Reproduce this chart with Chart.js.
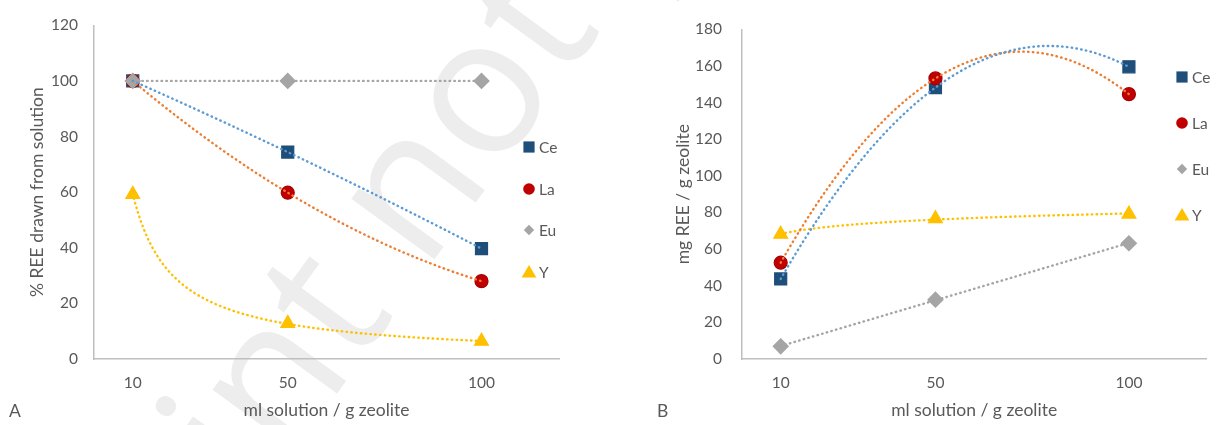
<!DOCTYPE html>
<html><head><meta charset="utf-8">
<script src="https://cdn.jsdelivr.net/npm/chart.js@4.4.1/dist/chart.umd.min.js"></script>
<style>
html,body{margin:0;padding:0;background:#fff;width:1216px;height:425px;overflow:hidden}
#wm{position:absolute;left:0;top:0;z-index:0}
.c{position:absolute;top:0;height:425px;z-index:1}
#ca{left:0;width:600px}
#cb{left:600px;width:616px}
</style></head><body>
<canvas id="wm" width="1216" height="425"></canvas>
<div class="c" id="ca"><canvas id="chartA"></canvas></div>
<div class="c" id="cb"><canvas id="chartB"></canvas></div>
<script>
// ---- data ----
const xValues = [10, 50, 100];
const xTickLabels = [10, 50, 100];
const seriesNames = ['Ce', 'La', 'Eu', 'Y'];
// Panel A: % REE drawn from solution
const pctCe = [100, 74.4, 39.7];
const pctLa = [100, 59.8, 28.0];
const pctEu = [100, 100, 100];
const pctY  = [59.2, 12.8, 6.4];
// Panel B: mg REE / g zeolite
const mgCe = [43.7, 148.2, 159.5];
const mgLa = [52.6, 153.2, 144.6];
const mgEu = [6.9, 32.4, 63.2];
const mgY  = [68.1, 76.6, 79.1];
// trendline types (Excel trendlines)
const trendA = ['poly2', 'poly2', 'linear', 'power'];
const trendB = ['poly2', 'poly2', 'linear', 'log'];

const FONT = 'Lato, "Open Sans", sans-serif';
const TXT = '#595959';
const markerColors = ['#1f4e79', '#c00000', '#a5a5a5', '#ffc000'];
const markerBorders = ['#1f4e79', '#a80000', '#a5a5a5', '#ffc000'];
const trendColors = ['#5b9bd5', '#ed7d31', '#a5a5a5', '#ffc000'];
const pointStyles = ['rect', 'circle', 'rectRot', 'triangle'];
const pointRadii = [8.5, 6.5, 7.5, 8];

// ---- regression helpers ----
function linFit(xs, ys) {
  const n = xs.length;
  const mx = xs.reduce((a, b) => a + b, 0) / n, my = ys.reduce((a, b) => a + b, 0) / n;
  let sxy = 0, sxx = 0;
  for (let i = 0; i < n; i++) { sxy += (xs[i] - mx) * (ys[i] - my); sxx += (xs[i] - mx) ** 2; }
  const b = sxx ? sxy / sxx : 0;
  return { a: my - b * mx, b };
}
function poly2Fit(xs, ys) {
  const S = [[0, 0, 0], [0, 0, 0], [0, 0, 0]], B = [0, 0, 0];
  xs.forEach((x, i) => {
    const p = [1, x, x * x];
    for (let r = 0; r < 3; r++) { B[r] += p[r] * ys[i]; for (let c = 0; c < 3; c++) S[r][c] += p[r] * p[c]; }
  });
  const M = S.map((row, i) => row.concat([B[i]]));
  for (let i = 0; i < 3; i++) {
    let piv = i;
    for (let k = i + 1; k < 3; k++) if (Math.abs(M[k][i]) > Math.abs(M[piv][i])) piv = k;
    [M[i], M[piv]] = [M[piv], M[i]];
    for (let k = i + 1; k < 3; k++) {
      const f = M[k][i] / M[i][i];
      for (let c = i; c < 4; c++) M[k][c] -= f * M[i][c];
    }
  }
  const c = [0, 0, 0];
  for (let i = 2; i >= 0; i--) {
    let s = M[i][3];
    for (let k = i + 1; k < 3; k++) s -= M[i][k] * c[k];
    c[i] = s / M[i][i];
  }
  return x => c[0] + c[1] * x + c[2] * x * x;
}
function makeTrend(type, xs, ys) {
  if (type === 'poly2') return poly2Fit(xs, ys);
  if (type === 'linear') { const f = linFit(xs, ys); return x => f.a + f.b * x; }
  if (type === 'power') { const f = linFit(xs.map(Math.log), ys.map(Math.log)); return x => Math.exp(f.a) * Math.pow(x, f.b); }
  if (type === 'log') { const f = linFit(xs.map(Math.log), ys); return x => f.a + f.b * Math.log(x); }
}
function trendPoints(type, xs, ys) {
  const f = makeTrend(type, xs, ys);
  const pts = [];
  const x0 = xs[0], x1 = xs[xs.length - 1];
  for (let x = x0; x <= x1 + 1e-9; x += 0.5) pts.push({ x, y: f(x) });
  return pts;
}

function buildDatasets(seriesArr, trendTypes) {
  const ds = [];
  seriesArr.forEach((ys, i) => {
    ds.push({
      label: seriesNames[i] + ' trend', type: 'line',
      data: trendPoints(trendTypes[i], xValues, ys),
      borderColor: trendColors[i], borderWidth: 2.4, borderDash: [0.5, 4.3], borderCapStyle: 'round',
      pointRadius: 0, fill: false, tension: 0, order: 0
    });
  });
  seriesArr.forEach((ys, i) => {
    ds.push({
      label: seriesNames[i], type: 'scatter',
      data: xValues.map((x, k) => ({ x, y: ys[k] })),
      pointStyle: pointStyles[i], pointRadius: pointRadii[i], pointHoverRadius: pointRadii[i],
      backgroundColor: markerColors[i], borderColor: markerBorders[i], borderWidth: 1.2,
      showLine: false, order: 4 - i
    });
  });
  return ds;
}

// ---- marker drawing for the legend ----
function drawMarker(ctx, style, x, y, r, fill) {
  ctx.save();
  ctx.fillStyle = fill;
  ctx.beginPath();
  if (style === 'rect') ctx.rect(x - r, y - r, 2 * r, 2 * r);
  else if (style === 'circle') ctx.arc(x, y, r, 0, Math.PI * 2);
  else if (style === 'rectRot') { ctx.moveTo(x, y - r); ctx.lineTo(x + r, y); ctx.lineTo(x, y + r); ctx.lineTo(x - r, y); ctx.closePath(); }
  else if (style === 'triangle') { ctx.moveTo(x, y - r); ctx.lineTo(x + r * 1.05, y + r * 0.8); ctx.lineTo(x - r * 1.05, y + r * 0.8); ctx.closePath(); }
  ctx.fill();
  ctx.restore();
}

const decorPlugin = {
  id: 'decor',
  afterDraw(chart, args, o) {
    const ctx = chart.ctx;
    ctx.save();
    ctx.font = '15.5px ' + FONT;
    ctx.fillStyle = TXT;
    ctx.textBaseline = 'middle';
    ctx.textAlign = 'left';
    const sizes = [5.6, 5.8, 5.2, 7];
    seriesNames.forEach((name, i) => {
      const y = o.legY[i];
      drawMarker(ctx, pointStyles[i], o.legX, y, sizes[i], markerColors[i]);
      ctx.fillStyle = TXT;
      ctx.fillText(name, o.legX + 10, y + 1);
    });
    ctx.font = '17.5px ' + FONT;
    ctx.fillText(o.letter, o.letterX, o.letterY);
    ctx.restore();
  }
};

function makeChart(id, seriesArr, trendTypes, yMax, yStep, yTitle, yAxisW, yTitlePad, yTickPad, padRight, decor) {
  return new Chart(document.getElementById(id), {
    type: 'scatter',
    data: { datasets: buildDatasets(seriesArr, trendTypes) },
    plugins: [decorPlugin],
    options: {
      responsive: true, maintainAspectRatio: false, animation: false,
      events: [],
      layout: { padding: { left: 0, right: padRight, top: 20, bottom: 0 } },
      plugins: { legend: { display: false }, tooltip: { enabled: false }, decor },
      scales: {
        x: {
          type: 'linear', min: 0, max: 120,
          afterBuildTicks: s => { s.ticks = xTickLabels.map(v => ({ value: v })); },
          afterFit: s => { s.height = 66; },
          grid: { display: false, drawTicks: false },
          border: { display: true, color: '#bfbfbf', width: 1.5 },
          ticks: { font: { family: FONT, size: 15.5 }, color: TXT, padding: 15, autoSkip: false, maxRotation: 0 },
          title: { display: true, text: 'ml solution / g zeolite', font: { family: FONT, size: 17.5 }, color: TXT, padding: { top: 0, bottom: 4 } }
        },
        y: {
          min: 0, max: yMax,
          afterFit: s => { s.width = yAxisW; },
          grid: { display: false, drawTicks: false },
          border: { display: true, color: '#bfbfbf', width: 1.5 },
          ticks: { stepSize: yStep, font: { family: FONT, size: 15.5 }, color: TXT, padding: yTickPad },
          title: { display: true, text: yTitle, font: { family: FONT, size: 17.5 }, color: TXT, padding: { top: yTitlePad, bottom: 0 } }
        }
      }
    }
  });
}

makeChart('chartA', [pctCe, pctLa, pctEu, pctY], trendA, 120, 20, '% REE drawn from solution', 94, 26.5, 16, 41,
  { legX: 529, legY: [147, 189, 230, 272], letter: 'A', letterX: 9, letterY: 411 });
makeChart('chartB', [mgCe, mgLa, mgEu, mgY], trendB, 180, 20, 'mg REE / g zeolite', 142, 72.5, 20, 7,
  { legX: 582, legY: [77, 123, 169, 215], letter: 'B', letterX: 57, letterY: 411 });

// ---- watermark ----
(function () {
  const ctx = document.getElementById('wm').getContext('2d');
  const fs = 192;
  ctx.font = '500 ' + fs + 'px "Open Sans"';
  const text = 'Preprint not peer reviewed';
  const w1 = ctx.measureText('Preprint n').width, wo = ctx.measureText('o').width;
  ctx.save();
  ctx.translate(486, 100);
  ctx.rotate(-54 * Math.PI / 180);
  ctx.fillStyle = '#ededed';
  ctx.textBaseline = 'alphabetic';
  ctx.fillText(text, -(w1 + wo / 2), 0.27 * fs);
  ctx.restore();
})();
</script>
</body></html>
